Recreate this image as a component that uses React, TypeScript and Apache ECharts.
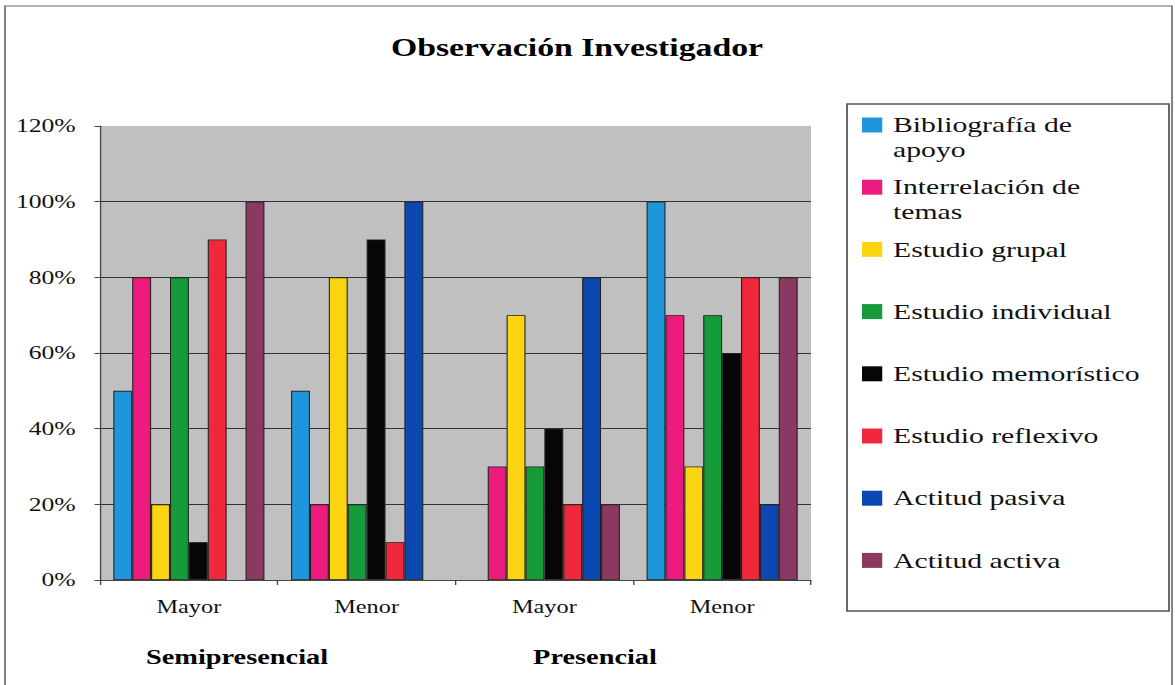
import { useEffect, useRef } from "react";
import * as echarts from "echarts";

// Category labels (second row groups them by modality)
const categories = ["Mayor", "Menor", "Mayor", "Menor"];
const groupLabels = ["Semipresencial", "Presencial"];

const seriesNames = [
  "Bibliografía de apoyo",
  "Interrelación de temas",
  "Estudio grupal",
  "Estudio individual",
  "Estudio memorístico",
  "Estudio reflexivo",
  "Actitud pasiva",
  "Actitud activa",
];
// Wrapped legend labels; the leading blank line keeps the first text line level with the swatch
const legendLabels = [
  "\nBibliografía de\napoyo",
  "\nInterrelación de\ntemas",
  "Estudio grupal",
  "Estudio individual",
  "Estudio memorístico",
  "Estudio reflexivo",
  "Actitud pasiva",
  "Actitud activa",
];

// Percentages per category (Semi Mayor, Semi Menor, Pres Mayor, Pres Menor)
const bibliografia = [50, 50, 0, 100];
const interrelacion = [80, 20, 30, 70];
const grupal = [20, 80, 70, 30];
const individual = [80, 20, 30, 70];
const memoristico = [10, 90, 40, 60];
const reflexivo = [90, 10, 20, 80];
const pasiva = [0, 100, 80, 20];
const activa = [100, 0, 20, 80];
const seriesValues = [bibliografia, interrelacion, grupal, individual, memoristico, reflexivo, pasiva, activa];

const colors = ["#1E96DC", "#EE1B7E", "#FCD512", "#169B3A", "#060606", "#F0283C", "#0B48B0", "#8A3A62"];

const yMin = 0;
const yMax = 120;
const yStep = 20;

// The drawing is laid out on a narrower canvas and widened horizontally.
const W = 1175;
const H = 685;
const S = 1.35;
const CW = W / S;
const px = (x: number) => x / S;

const SERIF = "'Liberation Serif', 'Times New Roman', serif";
const LEGEND_LH = 25;

export default function App() {
  const ref = useRef<HTMLDivElement>(null);

  useEffect(() => {
    if (!ref.current) return;
    const chart = echarts.init(ref.current, undefined, { renderer: "svg" });

    const legendTop0 = 125;
    const legendStep = 62.2;
    const legends = seriesNames.map((name, i) => {
      const lines = legendLabels[i].split("\n").length;
      const yc = legendTop0 + i * legendStep;
      return {
        data: [name],
        left: px(862),
        top: yc - (lines * LEGEND_LH) / 2,
        orient: "vertical",
        padding: 0,
        itemWidth: 15,
        itemHeight: 15,
        icon: "rect",
        selectedMode: false,
        formatter: () => legendLabels[i],
        itemStyle: { borderWidth: 0 },
        textStyle: {
          fontFamily: SERIF,
          fontSize: 22,
          lineHeight: LEGEND_LH,
          color: "#111",
          padding: [0, 0, 0, 3],
        },
      };
    });

    chart.setOption({
      animation: false,
      backgroundColor: "#ffffff",
      color: colors,
      title: {
        text: "Observación Investigador",
        left: px(577),
        top: 35,
        textAlign: "center",
        padding: 0,
        textStyle: { fontFamily: SERIF, fontSize: 25, fontWeight: "bold", color: "#000" },
      },
      legend: legends,
      grid: {
        left: px(100),
        top: 126,
        width: px(811) - px(100),
        height: 454,
        show: true,
        backgroundColor: "#C0C0C0",
        borderWidth: 0,
      },
      xAxis: {
        type: "category",
        data: categories,
        axisLine: { show: true, lineStyle: { color: "#444", width: 1 } },
        axisTick: { show: true, length: 5, lineStyle: { color: "#444" } },
        axisLabel: { fontFamily: SERIF, fontSize: 18, color: "#111", margin: 18 },
        splitLine: { show: false },
      },
      yAxis: {
        type: "value",
        min: yMin,
        max: yMax,
        interval: yStep,
        axisLine: { show: true, lineStyle: { color: "#444", width: 1 } },
        axisTick: { show: true, length: 4, lineStyle: { color: "#444" } },
        axisLabel: { formatter: "{value}%", fontFamily: SERIF, fontSize: 19, color: "#111", margin: 18 },
        splitLine: { show: true, showMaxLine: false, lineStyle: { color: "#333", width: 1 } },
      },
      series: seriesNames.map((name, i) => ({
        name,
        type: "bar",
        // empty (0 %) bars get no outline so they leave no mark on the axis
        data: seriesValues[i].map((v) => (v === 0 ? { value: v, itemStyle: { borderWidth: 0 } } : v)),
        barGap: "0%",
        barCategoryGap: "15%",
        itemStyle: { color: colors[i], borderColor: "#222", borderWidth: 0.8 },
      })),
      graphic: [
        {
          type: "rect",
          z: -10,
          silent: true,
          shape: { x: px(5), y: 6, width: px(1172) - px(5), height: 700 },
          style: { fill: "none", stroke: "#666", lineWidth: 1.2 },
        },
        {
          type: "rect",
          z: 0,
          silent: true,
          shape: { x: px(847), y: 104, width: px(1169) - px(847), height: 507 },
          style: { fill: "#ffffff", stroke: "#555", lineWidth: 1.3 },
        },
        {
          type: "text",
          x: px(237),
          y: 657,
          silent: true,
          style: {
            text: groupLabels[0],
            fontFamily: SERIF,
            fontSize: 21,
            fontWeight: "bold",
            fill: "#000",
            textAlign: "center",
            textVerticalAlign: "middle",
          },
        },
        {
          type: "text",
          x: px(595),
          y: 657,
          silent: true,
          style: {
            text: groupLabels[1],
            fontFamily: SERIF,
            fontSize: 21,
            fontWeight: "bold",
            fill: "#000",
            textAlign: "center",
            textVerticalAlign: "middle",
          },
        },
      ],
    });

    return () => chart.dispose();
  }, []);

  return (
    <div
      ref={ref}
      style={{
        position: "absolute",
        left: 0,
        top: 0,
        width: CW,
        height: H,
        transform: `scaleX(${S})`,
        transformOrigin: "0 0",
      }}
    />
  );
}
